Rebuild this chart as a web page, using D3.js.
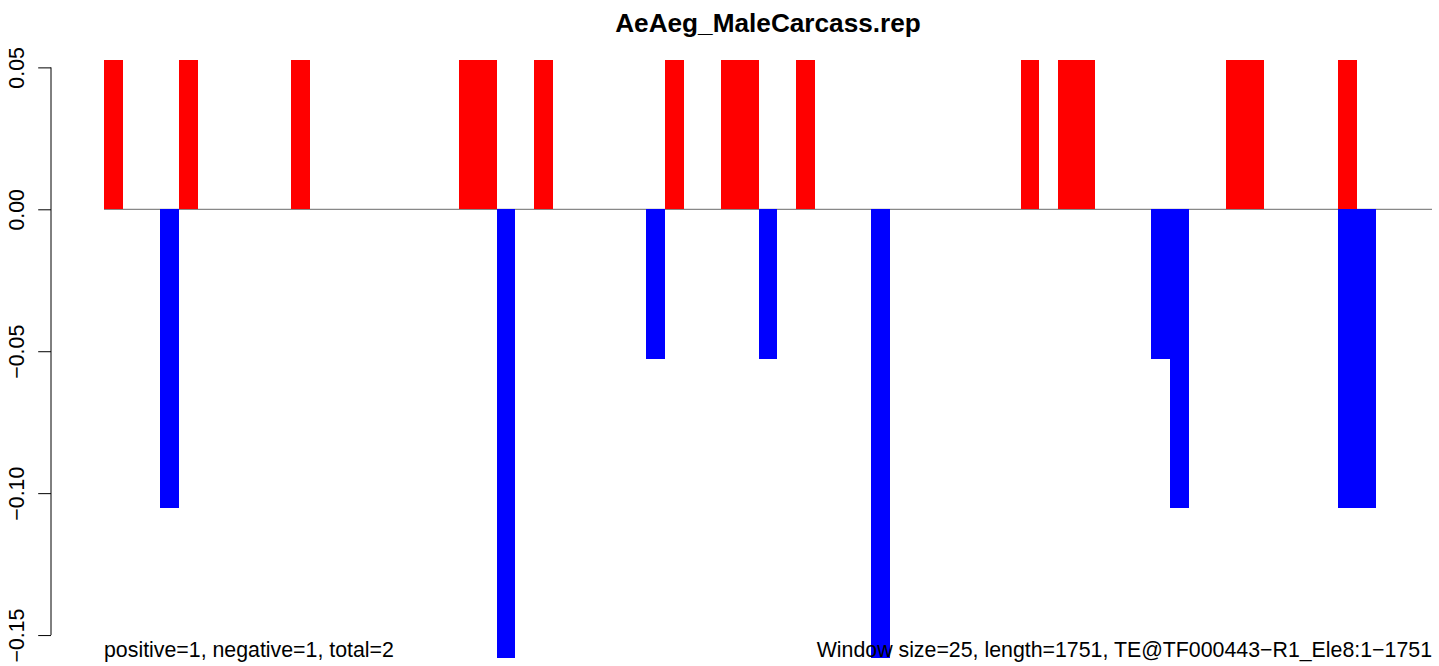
<!DOCTYPE html>
<html>
<head>
<meta charset="utf-8">
<script src="https://cdn.jsdelivr.net/npm/d3@7"></script>
<style>
  html, body { margin: 0; padding: 0; background: #ffffff; }
  svg { display: block; font-family: "Liberation Sans", Arial, Helvetica, sans-serif; }
</style>
</head>
<body>
<svg id="chart" width="1439" height="666"></svg>
<script>
// ---- data (71 windows of 25 bp over 1751 bp) ----
const chartTitle = "AeAeg_MaleCarcass.rep";
const windowSize = 25;
const windowIndex = d3.range(71);
const positiveValues = [
  0.0526, 0, 0, 0, 0.0526, 0, 0, 0, 0, 0,
  0.0526, 0, 0, 0, 0, 0, 0, 0, 0, 0.0526,
  0.0526, 0, 0, 0.0526, 0, 0, 0, 0, 0, 0,
  0.0526, 0, 0, 0.0526, 0.0526, 0, 0, 0.0526, 0, 0,
  0, 0, 0, 0, 0, 0, 0, 0, 0, 0.0526,
  0, 0.0526, 0.0526, 0, 0, 0, 0, 0, 0, 0,
  0.0526, 0.0526, 0, 0, 0, 0, 0.0526, 0, 0, 0,
  0
];
const negativeValues = [
  0, 0, 0, -0.1053, 0, 0, 0, 0, 0, 0,
  0, 0, 0, 0, 0, 0, 0, 0, 0, 0,
  0, -0.1579, 0, 0, 0, 0, 0, 0, 0, -0.0526,
  0, 0, 0, 0, 0, -0.0526, 0, 0, 0, 0,
  0, -0.1579, 0, 0, 0, 0, 0, 0, 0, 0,
  0, 0, 0, 0, 0, 0, -0.0526, -0.1053, 0, 0,
  0, 0, 0, 0, 0, 0, -0.1053, -0.1053, 0, 0,
  0
];
const yTickValues = [0.05, 0.00, -0.05, -0.10, -0.15];
const leftNote = "positive=1, negative=1, total=2";
const rightNote = "Window size=25, length=1751, TE@TF000443\u2212R1_Ele8:1\u22121751";

// ---- layout ----
const svg = d3.select("#chart");
const plot = { left: 104, right: 1432, top: 60, bottom: 657.5 };
const axisX = 51;
const baseFont = 21.33;

const x = d3.scaleLinear()
  .domain([0, windowIndex.length * windowSize])
  .range([plot.left, plot.right]);
const y = d3.scaleLinear()
  .domain([d3.min(negativeValues), d3.max(positiveValues)])
  .range([plot.bottom, plot.top]);

// zero line
svg.append("line")
  .attr("x1", plot.left).attr("x2", plot.right)
  .attr("y1", y(0)).attr("y2", y(0))
  .attr("stroke", "#6b6b6b").attr("stroke-width", 1);

// positive bars
svg.append("g").selectAll("rect")
  .data(windowIndex.filter(i => positiveValues[i] !== 0))
  .join("rect")
  .attr("x", i => x(i * windowSize))
  .attr("width", i => x((i + 1) * windowSize) - x(i * windowSize))
  .attr("y", i => y(positiveValues[i]))
  .attr("height", i => y(0) - y(positiveValues[i]))
  .attr("fill", "#ff0000")
  .attr("shape-rendering", "crispEdges");

// negative bars
svg.append("g").selectAll("rect")
  .data(windowIndex.filter(i => negativeValues[i] !== 0))
  .join("rect")
  .attr("x", i => x(i * windowSize))
  .attr("width", i => x((i + 1) * windowSize) - x(i * windowSize))
  .attr("y", y(0))
  .attr("height", i => y(negativeValues[i]) - y(0))
  .attr("fill", "#0000ff")
  .attr("shape-rendering", "crispEdges");

// y axis
const yAxis = d3.axisLeft(y)
  .tickValues(yTickValues)
  .tickFormat(d3.format(".2f"))
  .tickSize(12.8)
  .tickSizeOuter(0);
const ag = svg.append("g")
  .attr("transform", `translate(${axisX},0)`)
  .call(yAxis);
ag.select(".domain")
  .attr("d", `M0,${y(yTickValues[0])}V${y(yTickValues[yTickValues.length - 1])}`)
  .attr("stroke", "#000").attr("stroke-width", 1);
ag.selectAll(".tick line").attr("stroke", "#000").attr("stroke-width", 1);
ag.selectAll(".tick text")
  .attr("x", null).attr("dy", null)
  .attr("font-size", baseFont)
  .attr("fill", "#000")
  .attr("font-family", "'Liberation Sans', Arial, sans-serif")
  .attr("text-anchor", "middle")
  .attr("transform", "translate(-27.5,0) rotate(-90)");
ag.attr("font-size", null).attr("font-family", null);

// title
svg.append("text")
  .attr("x", (plot.left + plot.right) / 2)
  .attr("y", 32)
  .attr("text-anchor", "middle")
  .attr("font-weight", "bold")
  .attr("font-size", 26.2)
  .attr("fill", "#000")
  .text(chartTitle);

// bottom notes
svg.append("text")
  .attr("x", plot.left)
  .attr("y", 657)
  .attr("text-anchor", "start")
  .attr("font-size", baseFont)
  .attr("fill", "#000")
  .text(leftNote);
svg.append("text")
  .attr("x", plot.right)
  .attr("y", 657)
  .attr("text-anchor", "end")
  .attr("font-size", baseFont)
  .attr("fill", "#000")
  .text(rightNote);
</script>
</body>
</html>
